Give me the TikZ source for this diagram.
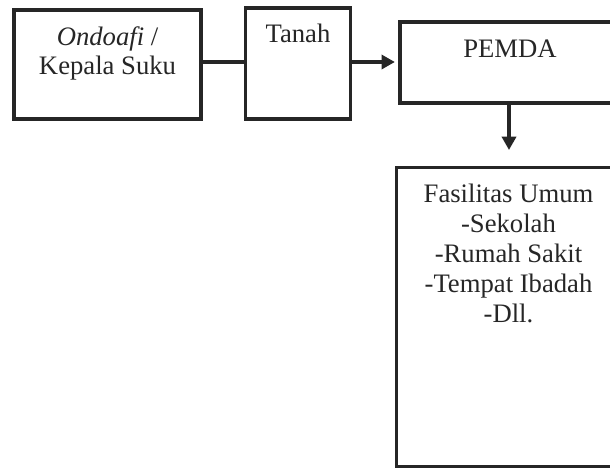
\documentclass[tikz,border=0pt]{standalone}
\usepackage{fontspec}
\setmainfont{Liberation Serif}
\usetikzlibrary{arrows.meta}
\begin{document}
\begin{tikzpicture}[x=0.75pt,y=-0.75pt,
  boxstyle/.style={draw=black!85,line width=2.7pt,inner sep=0pt},
  txt/.style={font=\fontsize{20pt}{22.5pt}\selectfont,text=black!85,inner sep=0pt,anchor=base,align=center},
  conn/.style={draw=black!85,line width=2.5pt},
  arr/.style={conn,-{Triangle[length=10pt,width=10.5pt]}}]
\useasboundingbox (0,0) rectangle (610,468);
\clip (0,0) rectangle (610,468);
\fill[white] (0,0) rectangle (610,468);
\node[boxstyle,minimum width=187*0.75pt,minimum height=109*0.75pt] (ond) at (107.5,64.5) {};
\node[boxstyle,minimum width=105*0.75pt,minimum height=111*0.75pt] (tan) at (298,63.5) {};
\node[boxstyle,minimum width=220*0.75pt,minimum height=81*0.75pt] (pem) at (510,62.5) {};
\node[boxstyle,minimum width=224*0.75pt,minimum height=299*0.75pt] (fas) at (508.5,317) {};
\node[txt] (t1) at (107.5,45) {\textit{Ondoafi} /};
\node[txt] (t2) at (107.5,74) {Kepala Suku};
\node[txt] (t3) at (298,42) {Tanah};
\node[txt] (t4) at (510,57) {PEMDA};
\node[txt] (t5) at (508.5,202) {Fasilitas Umum};
\node[txt] (t6) at (508.5,232) {-Sekolah};
\node[txt] (t7) at (508.5,262) {-Rumah Sakit};
\node[txt] (t8) at (508.5,292) {-Tempat Ibadah};
\node[txt] (t9) at (508.5,322) {-Dll.};
\draw[conn] (ond.east |- 0,62) -- (tan.west |- 0,62);
\draw[arr] (tan.east |- 0,62) -- ([xshift=-2.5pt]pem.west |- 0,62);
\draw[arr] (509,0 |- pem.south) -- (509,150);
\end{tikzpicture}
\end{document}
